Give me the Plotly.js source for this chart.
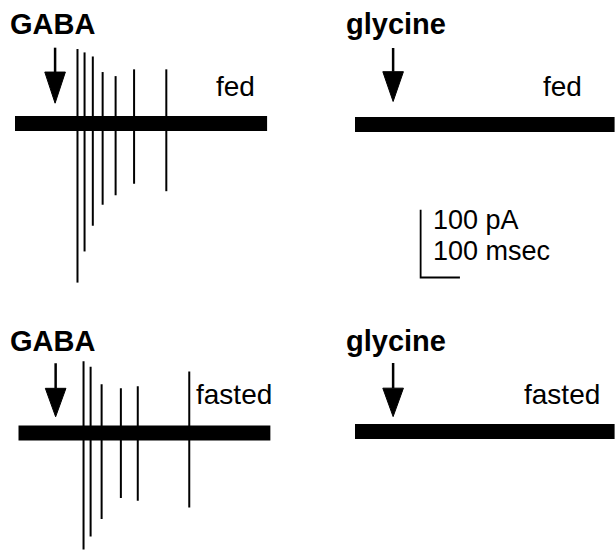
<!DOCTYPE html>
<html><head><meta charset="utf-8">
<script src="https://cdn.plot.ly/plotly-3.0.1.min.js"></script>
<style>html,body{margin:0;padding:0;background:#fff}</style>
</head><body><div id="chart" style="width:615px;height:550px"></div>
<script>
// ---- data (times in ms from trace start, amplitudes in pA relative to baseline) ----
const fedGabaTimes   = [159, 177, 198, 223, 256, 303, 385];
const fedGabaUp      = [110, 105,  99,  76,  70,  80,  80];
const fedGabaDown    = [235, 189, 151, 120, 106,  89, 100];

const fastedGabaTimes = [166, 184, 212, 261, 304, 435];
const fastedGabaUp    = [106,  98,  72,  66,  69,  91];
const fastedGabaDown  = [172, 153, 127,  96, 100, 110];

const fedGlycineTimes = [];
const fastedGlycineTimes = [];

const gabaDuration = 642;     // ms
const glycineDuration = 661;  // ms
const applicationTimes = [102, 97, 95, 97]; // ms, arrow position per panel
const drugLabels  = ['GABA', 'glycine', 'GABA', 'glycine'];
const stateLabels = ['fed', 'fed', 'fasted', 'fasted'];
const scaleCurrent = 100; // pA
const scaleTime = 100;    // ms

// ---- layout geometry ----
const W = 615, H = 550;
const kx = 0.393;  // px per ms
const ky = 0.677;  // px per pA
const panels = [
  {x0: 15,   yTop: 0,   yBot: 300, yBase: 123.5, dur: gabaDuration,
   t: fedGabaTimes, up: fedGabaUp, down: fedGabaDown,
   arrowTop: 112, arrowHead: 76, arrowTip: 30},
  {x0: 355,  yTop: 0,   yBot: 300, yBase: 124.5, dur: glycineDuration,
   t: fedGlycineTimes, up: [], down: [],
   arrowTop: 113, arrowHead: 78, arrowTip: 34},
  {x0: 18.3, yTop: 300, yBot: 550, yBase: 433, dur: gabaDuration,
   t: fastedGabaTimes, up: fastedGabaUp, down: fastedGabaDown,
   arrowTop: 103, arrowHead: 66, arrowTip: 24},
  {x0: 355,  yTop: 300, yBot: 550, yBase: 431.5, dur: glycineDuration,
   t: fastedGlycineTimes, up: [], down: [],
   arrowTop: 101, arrowHead: 64, arrowTip: 22}
];

const traces = [];
const shapes = [];
const annotations = [];
const layout = {
  width: W, height: H, margin: {l:0, r:0, t:0, b:0},
  paper_bgcolor: '#fff', plot_bgcolor: 'rgba(0,0,0,0)',
  showlegend: false, shapes, annotations
};
const font = 'Arial, "Liberation Sans", Helvetica, sans-serif';

panels.forEach((p, i) => {
  const n = i === 0 ? '' : String(i + 1);
  const xa = 'x' + n, ya = 'y' + n;
  const xEnd = Math.min(W, p.x0 + p.dur * kx);
  layout['xaxis' + n] = {
    domain: [p.x0 / W, xEnd / W], range: [0, (xEnd - p.x0) / kx],
    visible: false, fixedrange: true, anchor: ya
  };
  layout['yaxis' + n] = {
    domain: [1 - p.yBot / H, 1 - p.yTop / H],
    range: [-(p.yBot - p.yBase) / ky, (p.yBase - p.yTop) / ky],
    visible: false, fixedrange: true, anchor: xa
  };
  // baseline noise band
  traces.push({x: [0, p.dur], y: [0, 0], xaxis: xa, yaxis: ya, mode: 'lines',
    line: {color: '#000', width: 15}, hoverinfo: 'skip'});
  // spontaneous currents
  const sx = [], sy = [];
  p.t.forEach((t, j) => { sx.push(t, t, null); sy.push(p.up[j], -p.down[j], null); });
  if (sx.length) traces.push({x: sx, y: sy, xaxis: xa, yaxis: ya, mode: 'lines',
    line: {color: '#000', width: 2}, hoverinfo: 'skip'});
  // application arrow
  const at = applicationTimes[i], hw = 10.3 / kx;
  shapes.push({type: 'line', xref: xa, yref: ya, x0: at, x1: at, y0: p.arrowTop, y1: p.arrowHead,
    line: {color: '#000', width: 2.5}});
  shapes.push({type: 'path', xref: xa, yref: ya,
    path: `M${at - hw},${p.arrowHead} L${at + hw},${p.arrowHead} L${at},${p.arrowTip} Z`,
    fillcolor: '#000', line: {color: '#000', width: 1}});
});

// text labels (paper coordinates from pixel positions)
const px = x => x / W, py = y => 1 - y / H;
const labelPos = [
  {drug: [9, 24], state: [215, 86]},
  {drug: [345, 24], state: [542, 86]},
  {drug: [9, 341], state: [195, 394]},
  {drug: [345, 341], state: [523, 394]}
];
labelPos.forEach((lp, i) => {
  annotations.push({xref: 'paper', yref: 'paper', x: px(lp.drug[0]), y: py(lp.drug[1]),
    xanchor: 'left', yanchor: 'middle', showarrow: false, text: '<b>' + drugLabels[i] + '</b>',
    font: {family: font, size: 29, color: '#000'}, borderpad: 0});
  annotations.push({xref: 'paper', yref: 'paper', x: px(lp.state[0]), y: py(lp.state[1]),
    xanchor: 'left', yanchor: 'middle', showarrow: false, text: stateLabels[i],
    font: {family: font, size: 28, color: '#000'}, borderpad: 0});
});

// scale bar in the top-right panel's data units
const sbT = 167, sbY = -226;
shapes.push({type: 'path', xref: 'x2', yref: 'y2',
  path: `M${sbT},${sbY + scaleCurrent} L${sbT},${sbY} L${sbT + scaleTime},${sbY}`,
  line: {color: '#000', width: 1.8}});
annotations.push({xref: 'paper', yref: 'paper', x: px(432), y: py(220),
  xanchor: 'left', yanchor: 'middle', showarrow: false, text: scaleCurrent + ' pA',
  font: {family: font, size: 27, color: '#000'}, borderpad: 0});
annotations.push({xref: 'paper', yref: 'paper', x: px(432), y: py(251),
  xanchor: 'left', yanchor: 'middle', showarrow: false, text: scaleTime + ' msec',
  font: {family: font, size: 27, color: '#000'}, borderpad: 0});

Plotly.newPlot('chart', traces, layout, {staticPlot: true, displayModeBar: false});
</script></body></html>
